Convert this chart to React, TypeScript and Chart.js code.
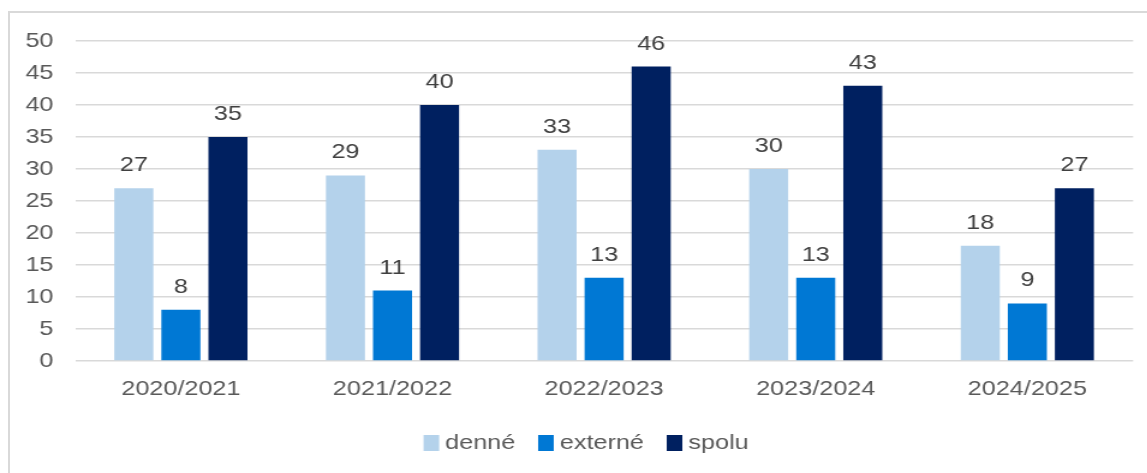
import React, { useEffect, useRef } from "react";
import { Chart, registerables } from "chart.js";

Chart.register(...registerables);

const categories = ["2020/2021", "2021/2022", "2022/2023", "2023/2024", "2024/2025"];
const denne = [27, 29, 33, 30, 18];
const externe = [8, 11, 13, 13, 9];
const spolu = [35, 40, 46, 43, 27];
const seriesNames = ["denné", "externé", "spolu"];
const yTicksMax = 50;
const yTicksStep = 5;

const STRETCH = 1.2;
const W = 1147;
const H = 473;
const FONT = "'Liberation Sans', Arial, Helvetica, sans-serif";

const valueLabels = {
  id: "valueLabels",
  afterDatasetsDraw(chart: any) {
    const ctx = chart.ctx;
    ctx.save();
    ctx.font = `21px ${FONT}`;
    ctx.fillStyle = "#404040";
    ctx.textAlign = "center";
    ctx.textBaseline = "alphabetic";
    chart.data.datasets.forEach((ds: any, i: number) => {
      const meta = chart.getDatasetMeta(i);
      meta.data.forEach((bar: any, j: number) => {
        ctx.fillText(String(ds.data[j]), bar.x, bar.y - 17);
      });
    });
    ctx.restore();
  },
};

const bottomLegend = {
  id: "bottomLegend",
  afterDraw(chart: any) {
    const ctx = chart.ctx;
    const boxW = 13;
    const boxH = 16;
    const gap = 5;
    const sep = 19;
    ctx.save();
    ctx.font = `21px ${FONT}`;
    const items = chart.data.datasets.map((ds: any) => ({
      label: ds.label,
      color: ds.backgroundColor,
      w: boxW + gap + ctx.measureText(ds.label).width,
    }));
    const total = items.reduce((a: number, it: any) => a + it.w, 0) + sep * (items.length - 1);
    let x = chart.width / 2 + 10 - total / 2;
    const cy = 443;
    ctx.textBaseline = "middle";
    ctx.textAlign = "left";
    items.forEach((it: any) => {
      ctx.fillStyle = it.color;
      ctx.fillRect(x, cy - boxH / 2, boxW, boxH);
      ctx.fillStyle = "#595959";
      ctx.fillText(it.label, x + boxW + gap, cy);
      x += it.w + sep;
    });
    ctx.restore();
  },
};

export default function App() {
  const ref = useRef<HTMLCanvasElement | null>(null);
  useEffect(() => {
    if (!ref.current) return;
    const chart = new Chart(ref.current, {
      type: "bar",
      data: {
        labels: categories,
        datasets: [
          { label: seriesNames[0], data: denne, backgroundColor: "#B4D2EB", borderWidth: 0 },
          { label: seriesNames[1], data: externe, backgroundColor: "#0078D4", borderWidth: 0 },
          { label: seriesNames[2], data: spolu, backgroundColor: "#002060", borderWidth: 0 },
        ],
      },
      options: {
        animation: false,
        responsive: true,
        maintainAspectRatio: false,
        datasets: { bar: { categoryPercentage: 0.667, barPercentage: 0.83 } },
        layout: { padding: { left: 0, right: W / STRETCH - 1132 / STRETCH, top: 41, bottom: 62 } },
        plugins: {
          tooltip: { enabled: false },
          legend: { display: false },
        },
        scales: {
          x: {
            grid: { display: false },
            border: { display: false },
            ticks: { color: "#595959", font: { family: FONT, size: 21 }, padding: 8 },
            afterFit: (s: any) => { s.height = 50; },
          },
          y: {
            min: 0,
            max: yTicksMax,
            ticks: { stepSize: yTicksStep, color: "#595959", font: { family: FONT, size: 21 }, padding: 18 },
            grid: { color: "#d9d9d9", lineWidth: 1.5, drawTicks: false },
            border: { display: false },
            afterFit: (s: any) => { s.width = 75 / STRETCH; },
          },
        },
      },
      plugins: [valueLabels, bottomLegend],
    });
    return () => chart.destroy();
  }, []);

  return (
    <div style={{ position: "fixed", left: 0, top: 0, width: W, height: H, overflow: "hidden", background: "#fff" }}>
      <div
        style={{
          position: "absolute",
          left: 8,
          top: 11,
          width: 1300,
          height: 600,
          borderTop: "2px solid #d9d9d9",
          borderLeft: "2px solid #d9d9d9",
        }}
      />
      <div
        style={{
          position: "absolute",
          left: 0,
          top: 0,
          width: W / STRETCH,
          height: H,
          transform: `scaleX(${STRETCH})`,
          transformOrigin: "0 0",
        }}
      >
        <canvas ref={ref} />
      </div>
    </div>
  );
}
